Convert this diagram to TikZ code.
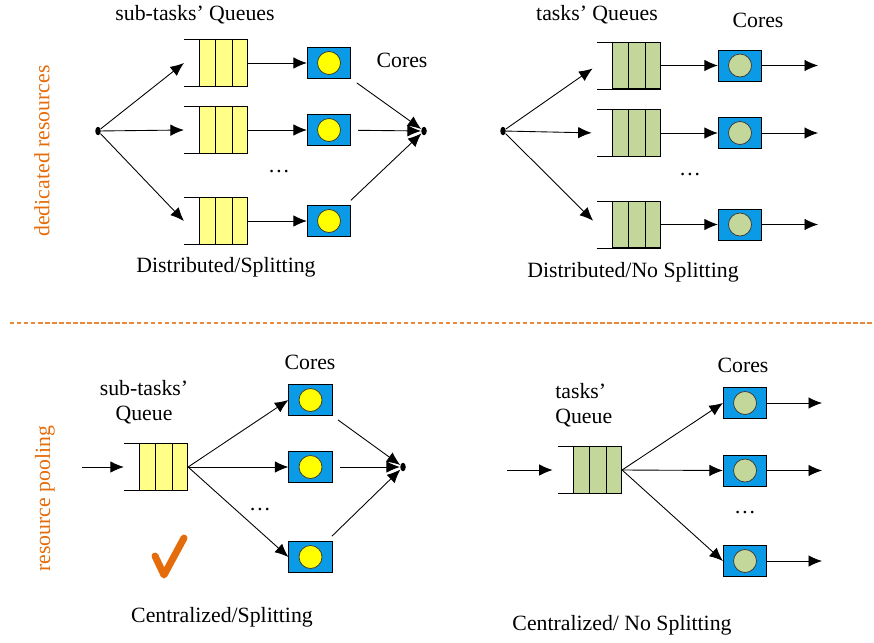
\documentclass[tikz,border=0pt]{standalone}
\usepackage{fontspec}
\setmainfont{Liberation Serif}
\usetikzlibrary{arrows.meta,shapes.geometric}
\definecolor{QPblue}{HTML}{0A9AE6}
\definecolor{QPyellow}{HTML}{FFFF88}
\definecolor{QPdot}{HTML}{FFFF00}
\definecolor{QPgreen}{HTML}{C4D79B}
\definecolor{QPorange}{HTML}{E46C0A}
\tikzset{qbody/.style={draw,minimum width=0.97cm,minimum height=0.93cm,inner sep=0pt},
 core/.style={draw,fill=QPblue,minimum width=0.87cm,minimum height=0.62cm,inner sep=0pt,
 path picture={\draw[fill=#1,draw=black!80!olive] (path picture bounding box.center) circle (0.23cm);}},
 srcdot/.style={ellipse,fill=black,minimum width=0.11cm,minimum height=0.17cm,inner sep=0pt},
 qparr/.style={-{Latex[length=2.7mm,width=2.3mm]},line width=0.5pt},
 lbl/.style={font=\fontsize{12.4}{14}\selectfont,inner sep=0pt},
 side/.style={lbl,text=QPorange,rotate=90}}
\newcommand{\qlines}[1]{%
 \draw ([xshift=-0.3cm]#1.north west) -- (#1.north east);
 \draw ([xshift=-0.3cm]#1.south west) -- (#1.south east);
 \draw ([xshift=0.323cm]#1.north west) -- ([xshift=0.323cm]#1.south west);
 \draw ([xshift=-0.323cm]#1.north east) -- ([xshift=-0.323cm]#1.south east);}

\begin{document}
\begin{tikzpicture}[x=0.02cm,y=-0.02cm]
\useasboundingbox (0,0) rectangle (874,642);
% side labels and separator
\node[side] (dedi) at (42,151) {dedicated resources};
\node[side] (pool) at (45,499) {resource pooling};
\draw[QPorange!80,dash pattern=on 2.5pt off 1.5pt,line width=0.6pt] (10,323) -- (872,323);

% distributed / splitting
\node[srcdot] (src1) at (98,131) {};
\node[qbody,fill=QPyellow] (q11) at (223.5,63) {}; \qlines{q11}
\node[qbody,fill=QPyellow] (q12) at (223.5,130) {}; \qlines{q12}
\node[qbody,fill=QPyellow] (q13) at (223.5,221) {}; \qlines{q13}
\node[core=QPdot] (c11) at (329,63) {};
\node[core=QPdot] (c12) at (329,130) {};
\node[core=QPdot] (c13) at (329,221) {};
\node[srcdot] (sk1) at (424,131) {};
\foreach \i in {1,2,3}{
 \draw[qparr] (src1) -- ([xshift=-0.3cm]q1\i.west);
 \draw[qparr] (q1\i) -- (c1\i);
 \draw[qparr,shorten <=4pt] (c1\i) -- (sk1);}
\node[lbl] (t11) at (195,15) {sub-tasks' Queues};
\node[lbl] (t12) at (402,60) {Cores};
\node[lbl] (t13) at (279,172) {\dots};
\node[lbl] (t14) at (226,267) {Distributed/Splitting};

% distributed / no splitting
\node[srcdot] (src2) at (503,131) {};
\node[qbody,fill=QPgreen] (q21) at (636.5,65.5) {}; \qlines{q21}
\node[qbody,fill=QPgreen] (q22) at (636.5,133) {}; \qlines{q22}
\node[qbody,fill=QPgreen] (q23) at (636.5,224.5) {}; \qlines{q23}
\node[core=QPgreen] (c21) at (740,65.5) {};
\node[core=QPgreen] (c22) at (740,133) {};
\node[core=QPgreen] (c23) at (740,224.5) {};
\coordinate (o21) at (818,65.5);
\coordinate (o22) at (818,133);
\coordinate (o23) at (818,224.5);
\foreach \i in {1,2,3}{
 \draw[qparr,shorten >=3pt] (src2) -- ([xshift=-0.3cm]q2\i.west);
 \draw[qparr] (q2\i) -- (c2\i);
 \draw[qparr] (c2\i) -- (o2\i);}
\node[lbl] (t21) at (597,15) {tasks' Queues};
\node[lbl] (t22) at (758,20) {Cores};
\node[lbl] (t23) at (690,175) {\dots};
\node[lbl] (t24) at (633,272) {Distributed/No Splitting};

% centralized / splitting
\coordinate (in3) at (82,467);
\node[qbody,fill=QPyellow] (q3) at (163.5,467) {}; \qlines{q3}
\node[core=QPdot] (c31) at (310.5,400) {};
\node[core=QPdot] (c32) at (310.5,467) {};
\node[core=QPdot] (c33) at (310.5,557) {};
\node[srcdot] (sk3) at (403,467) {};
\draw[qparr] (in3) -- ([xshift=-0.3cm]q3.west);
\foreach \i in {1,2,3}{
 \draw[qparr] (q3.east) -- (c3\i.west);
 \draw[qparr,shorten <=4pt] (c3\i) -- (sk3);}
\node[lbl] (t31) at (310,362) {Cores};
\node[lbl,align=center] (t32) at (144,402) {sub-tasks'\\Queue};
\node[lbl] (t33) at (260,510) {\dots};
\draw[QPorange,line width=0.14cm,line cap=round,line join=round] (155,556) -- (164,575) -- (184,538);
\node[lbl] (t34) at (222,617) {Centralized/Splitting};

% centralized / no splitting
\coordinate (in4) at (507,470);
\node[qbody,fill=QPgreen] (q4) at (597.5,470) {}; \qlines{q4}
\node[core=QPgreen] (c41) at (745,403) {};
\node[core=QPgreen] (c42) at (745,470.5) {};
\node[core=QPgreen] (c43) at (745,561) {};
\coordinate (o41) at (822,403);
\coordinate (o42) at (822,470.5);
\coordinate (o43) at (822,561);
\draw[qparr,shorten >=3pt] (in4) -- ([xshift=-0.3cm]q4.west);
\foreach \i in {1,2,3}{
 \draw[qparr] (q4.east) -- (c4\i.west);
 \draw[qparr] (c4\i) -- (o4\i);}
\node[lbl] (t41) at (743,365) {Cores};
\node[lbl,align=left,anchor=west] (t42) at (555,405) {tasks'\\Queue};
\node[lbl] (t43) at (745,513) {\dots};
\node[lbl] (t44) at (622,625) {Centralized/ No Splitting};
\end{tikzpicture}
\end{document}
